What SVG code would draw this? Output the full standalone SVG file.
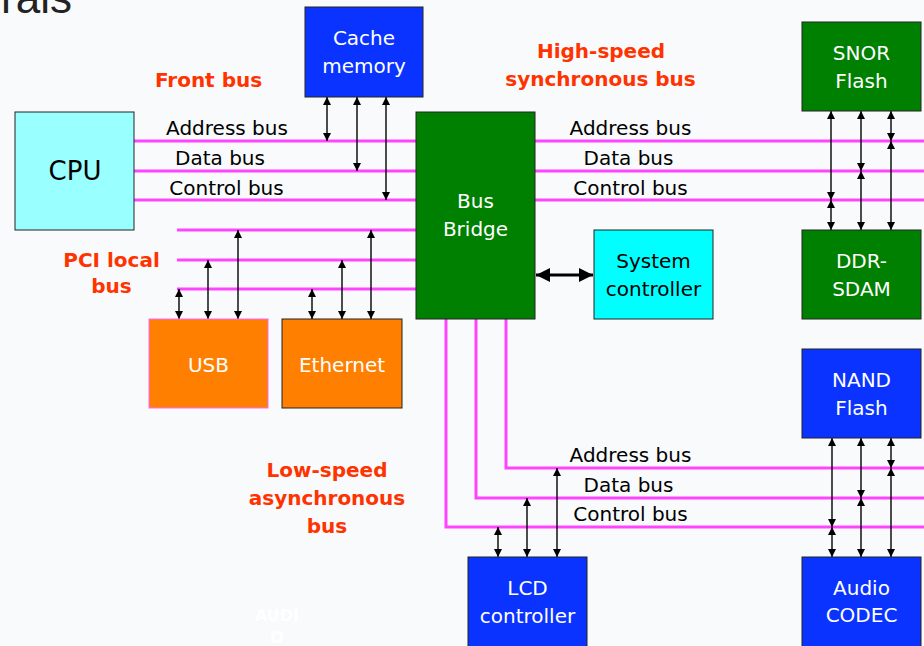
<svg xmlns="http://www.w3.org/2000/svg" width="924" height="646" viewBox="0 0 924 646">
  <style>
    .bus { stroke: #ff44ff; stroke-width: 3; fill: none; }
    .link { stroke: #000; stroke-width: 1.4; fill: none; marker-start: url(#ah); marker-end: url(#ah); }
    .box { stroke: #222; stroke-width: 1; }
    .lbl { font-family: "DejaVu Sans", Verdana, sans-serif; font-size: 20px; text-anchor: middle; }
    .white { fill: #fff; }
    .dark { fill: #000; }
    .head { font-family: "DejaVu Sans", Verdana, sans-serif; font-size: 20px; font-weight: bold; fill: #ff3300; text-anchor: middle; }
  </style>
  <defs>
    <marker id="ah" viewBox="0 0 8 8" refX="8" refY="4" markerWidth="8" markerHeight="8" markerUnits="userSpaceOnUse" orient="auto-start-reverse">
      <path d="M0,0 L8,4 L0,8 z" fill="#000"/>
    </marker>
    <marker id="bigah" viewBox="0 0 14 14" refX="14" refY="7" markerWidth="14" markerHeight="14" markerUnits="userSpaceOnUse" orient="auto-start-reverse">
      <path d="M0,0 L14,7 L0,14 z" fill="#000"/>
    </marker>
  </defs>

  <!-- page background -->
  <rect x="0" y="0" width="924" height="646" fill="#f9fafb"/>
  <text x="72" y="13" font-family="'Liberation Sans', Arial, sans-serif" font-size="44" fill="#222" text-anchor="end">erals</text>
  <text x="277" y="621" font-family="'DejaVu Sans', Verdana, sans-serif" font-size="16" font-weight="bold" fill="#fff" text-anchor="middle">AUDI</text>
  <text x="277" y="643" font-family="'DejaVu Sans', Verdana, sans-serif" font-size="16" font-weight="bold" fill="#fff" text-anchor="middle">O</text>

  <!-- bus section titles -->
  <text class="head" x="208.5" y="87">Front bus</text>
  <text class="head" x="601" y="58">High-speed</text>
  <text class="head" x="600.5" y="86">synchronous bus</text>
  <text class="head" x="111.5" y="267">PCI local</text>
  <text class="head" x="111.5" y="293">bus</text>
  <text class="head" x="327" y="477">Low-speed</text>
  <text class="head" x="327" y="505">asynchronous</text>
  <text class="head" x="327" y="533">bus</text>

  <g id="connectors">
    <!-- front bus: CPU to bus bridge -->
    <line class="bus" x1="134" y1="141" x2="416" y2="141"/>
    <line class="bus" x1="134" y1="171" x2="416" y2="171"/>
    <line class="bus" x1="134" y1="200" x2="416" y2="200"/>
    <text class="lbl dark" x="227" y="135">Address bus</text>
    <text class="lbl dark" x="220" y="165">Data bus</text>
    <text class="lbl dark" x="226.5" y="195">Control bus</text>

    <!-- PCI local bus -->
    <line class="bus" x1="177" y1="230" x2="417" y2="230"/>
    <line class="bus" x1="177" y1="260" x2="417" y2="260"/>
    <line class="bus" x1="177" y1="289" x2="417" y2="289"/>

    <!-- high-speed synchronous bus -->
    <line class="bus" x1="535" y1="141" x2="924" y2="141"/>
    <line class="bus" x1="535" y1="171" x2="924" y2="171"/>
    <line class="bus" x1="535" y1="200" x2="924" y2="200"/>
    <text class="lbl dark" x="630.5" y="135">Address bus</text>
    <text class="lbl dark" x="628.5" y="165">Data bus</text>
    <text class="lbl dark" x="630.5" y="195">Control bus</text>

    <!-- low-speed asynchronous bus -->
    <polyline class="bus" points="506,319 506,468 924,468"/>
    <polyline class="bus" points="476,319 476,498 924,498"/>
    <polyline class="bus" points="446,319 446,527 924,527"/>
    <text class="lbl dark" x="630.5" y="462">Address bus</text>
    <text class="lbl dark" x="628.5" y="492">Data bus</text>
    <text class="lbl dark" x="630.5" y="521">Control bus</text>

    <!-- cache memory taps -->
    <line class="link" x1="327" y1="97" x2="327" y2="141"/>
    <line class="link" x1="357" y1="97" x2="357" y2="171"/>
    <line class="link" x1="386" y1="97" x2="386" y2="200"/>

    <!-- USB taps -->
    <line class="link" x1="179" y1="289" x2="179" y2="319"/>
    <line class="link" x1="208" y1="260" x2="208" y2="319"/>
    <line class="link" x1="238" y1="230" x2="238" y2="319"/>

    <!-- Ethernet taps -->
    <line class="link" x1="312" y1="289" x2="312" y2="319"/>
    <line class="link" x1="342" y1="260" x2="342" y2="319"/>
    <line class="link" x1="371" y1="230" x2="371" y2="319"/>

    <!-- SNOR flash / DDR taps -->
    <line class="link" x1="831" y1="111" x2="831" y2="200"/>
    <line class="link" x1="831" y1="200" x2="831" y2="230"/>
    <line class="link" x1="861" y1="111" x2="861" y2="171"/>
    <line class="link" x1="861" y1="171" x2="861" y2="230"/>
    <line class="link" x1="891" y1="111" x2="891" y2="141"/>
    <line class="link" x1="891" y1="141" x2="891" y2="230"/>

    <!-- NAND flash / audio codec taps -->
    <line class="link" x1="832" y1="438" x2="832" y2="527"/>
    <line class="link" x1="832" y1="527" x2="832" y2="557"/>
    <line class="link" x1="861" y1="438" x2="861" y2="498"/>
    <line class="link" x1="861" y1="498" x2="861" y2="557"/>
    <line class="link" x1="891" y1="438" x2="891" y2="468"/>
    <line class="link" x1="891" y1="468" x2="891" y2="557"/>

    <!-- LCD controller taps -->
    <line class="link" x1="498" y1="527" x2="498" y2="557"/>
    <line class="link" x1="527" y1="498" x2="527" y2="557"/>
    <line class="link" x1="557" y1="468" x2="557" y2="557"/>

    <!-- bridge to system controller -->
    <line x1="536" y1="275" x2="593" y2="275" stroke="#000" stroke-width="3" marker-start="url(#bigah)" marker-end="url(#bigah)"/>
  </g>

  <g id="cpu">
    <rect class="box" x="15" y="112" width="119" height="118" fill="#99ffff"/>
    <text class="lbl dark" x="75" y="180" font-size="26" style="font-size:26px">CPU</text>
  </g>

  <g id="cache-memory">
    <rect class="box" x="305" y="7" width="118" height="90" fill="#0a33ff"/>
    <text class="lbl white" x="364" y="45">Cache</text>
    <text class="lbl white" x="364" y="73">memory</text>
  </g>

  <g id="bus-bridge">
    <rect class="box" x="416" y="112" width="119" height="207" fill="#008000"/>
    <text class="lbl white" x="475.5" y="208">Bus</text>
    <text class="lbl white" x="475.5" y="236">Bridge</text>
  </g>

  <g id="usb">
    <rect x="149" y="319" width="119" height="89" fill="#ff7f00" stroke="#ff66ff" stroke-width="1"/>
    <text class="lbl white" x="208.5" y="372">USB</text>
  </g>

  <g id="ethernet">
    <rect class="box" x="282" y="319" width="120" height="89" fill="#ff7f00"/>
    <text class="lbl white" x="342" y="372">Ethernet</text>
  </g>

  <g id="system-controller">
    <rect class="box" x="594" y="230" width="119" height="89" fill="#00ffff"/>
    <text class="lbl dark" x="653.5" y="268">System</text>
    <text class="lbl dark" x="653.5" y="296">controller</text>
  </g>

  <g id="snor-flash">
    <rect class="box" x="802" y="22" width="119" height="89" fill="#008000"/>
    <text class="lbl white" x="861.5" y="60">SNOR</text>
    <text class="lbl white" x="861.5" y="88">Flash</text>
  </g>

  <g id="ddr-sdam">
    <rect class="box" x="802" y="230" width="119" height="89" fill="#008000"/>
    <text class="lbl white" x="861.5" y="268">DDR-</text>
    <text class="lbl white" x="861.5" y="296">SDAM</text>
  </g>

  <g id="nand-flash">
    <rect class="box" x="802" y="349" width="119" height="89" fill="#0a33ff"/>
    <text class="lbl white" x="861.5" y="387">NAND</text>
    <text class="lbl white" x="861.5" y="415">Flash</text>
  </g>

  <g id="audio-codec">
    <rect class="box" x="802" y="557" width="119" height="95" fill="#0a33ff"/>
    <text class="lbl white" x="861.5" y="595">Audio</text>
    <text class="lbl white" x="861.5" y="622">CODEC</text>
  </g>

  <g id="lcd-controller">
    <rect class="box" x="468" y="557" width="119" height="95" fill="#0a33ff"/>
    <text class="lbl white" x="527.5" y="595">LCD</text>
    <text class="lbl white" x="527.5" y="623">controller</text>
  </g>
</svg>
